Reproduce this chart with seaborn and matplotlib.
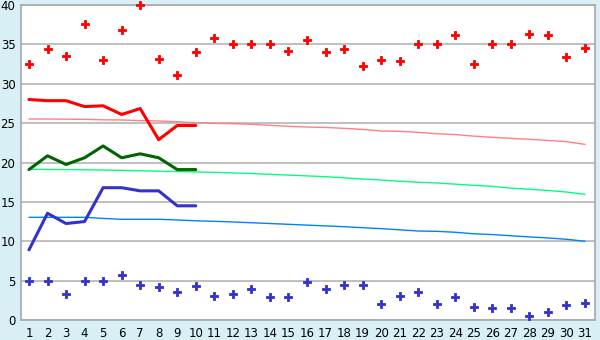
import matplotlib
matplotlib.use("Agg")
import matplotlib.pyplot as plt
import seaborn as sns
import pandas as pd
import numpy as np

days = list(range(1, 32))

max_pts = [32.5, 34.4, 33.5, 37.6, 33.0, 36.8, 40.0, 33.1, 31.1, 34.0,
           35.8, 35.0, 35.0, 35.0, 34.1, 35.6, 34.0, 34.4, 32.2, 33.0,
           32.9, 35.0, 35.0, 36.2, 32.5, 35.0, 35.0, 36.3, 36.2, 33.4, 34.6]
min_pts = [5.0, 5.0, 3.3, 5.0, 5.0, 5.7, 4.5, 4.2, 3.5, 4.3,
           3.0, 3.3, 3.9, 2.9, 2.9, 4.8, 3.9, 4.4, 4.4, 2.0,
           3.0, 3.5, 2.0, 2.9, 1.7, 1.5, 1.5, 0.5, 1.0, 1.9, 2.2]

line_days = list(range(1, 11))
max_line = [28.0, 27.85, 27.85, 27.1, 27.2, 26.1, 26.85, 22.9, 24.7, 24.7]
mean_line = [19.1, 20.85, 19.75, 20.6, 22.1, 20.6, 21.1, 20.6, 19.1, 19.1]
min_line = [8.9, 13.55, 12.25, 12.5, 16.8, 16.8, 16.4, 16.4, 14.5, 14.5]

norm_max = [25.52, 25.52, 25.50, 25.48, 25.42, 25.40, 25.32, 25.27, 25.18, 25.05,
            24.97, 24.93, 24.85, 24.72, 24.60, 24.50, 24.45, 24.34, 24.20, 24.00,
            23.96, 23.83, 23.65, 23.55, 23.35, 23.20, 23.07, 22.95, 22.80, 22.65, 22.30]
norm_mean = [19.13, 19.12, 19.10, 19.08, 19.05, 19.00, 18.95, 18.90, 18.85, 18.80,
             18.75, 18.68, 18.60, 18.50, 18.40, 18.30, 18.20, 18.05, 17.90, 17.78,
             17.62, 17.49, 17.40, 17.25, 17.10, 16.97, 16.75, 16.60, 16.45, 16.25, 15.96]
norm_min = [13.04, 13.04, 13.04, 13.04, 12.90, 12.79, 12.79, 12.79, 12.70, 12.60,
            12.53, 12.45, 12.35, 12.25, 12.15, 12.05, 11.95, 11.85, 11.72, 11.60,
            11.45, 11.30, 11.26, 11.14, 10.95, 10.85, 10.70, 10.55, 10.42, 10.25, 10.00]

sns.set_theme(style="white")
plt.rcParams['font.family'] = ['DejaVu Sans']

bg = "#D9EFF6"
fig = plt.figure(figsize=(6.0, 3.4), dpi=100, facecolor=bg)
ax = fig.add_axes([21/600, 1-320/340, (595-21)/600, (320-5)/340])
ax.set_facecolor("white")

df_norm = pd.DataFrame({"day": days, "nmax": norm_max, "nmean": norm_mean, "nmin": norm_min,
                        "pmax": max_pts, "pmin": min_pts})
df_line = pd.DataFrame({"day": line_days, "max": max_line, "mean": mean_line, "min": min_line})

sns.lineplot(data=df_norm, x="day", y="nmax", ax=ax, color="#FF8080", linewidth=1.0)
sns.lineplot(data=df_norm, x="day", y="nmean", ax=ax, color="#00FF80", linewidth=1.0)
sns.lineplot(data=df_norm, x="day", y="nmin", ax=ax, color="#0080FF", linewidth=1.0)

sns.lineplot(data=df_line, x="day", y="max", ax=ax, color="#FF0000", linewidth=2.2)
sns.lineplot(data=df_line, x="day", y="mean", ax=ax, color="#006400", linewidth=2.2)
sns.lineplot(data=df_line, x="day", y="min", ax=ax, color="#3333CC", linewidth=2.2)

sns.scatterplot(data=df_norm, x="day", y="pmax", ax=ax, color="#FF0000", marker="P",
                s=32, edgecolor="#FF0000", linewidth=0.6, zorder=5, clip_on=False)
sns.scatterplot(data=df_norm, x="day", y="pmin", ax=ax, color="#3333CC", marker="P",
                s=32, edgecolor="#3333CC", linewidth=0.6, zorder=5, clip_on=False)

ax.set_xlim(0.57, 31.54)
ax.set_ylim(0, 40)
ax.set_xticks(days)
ax.set_xticklabels([str(d) for d in days])
ax.set_yticks(range(0, 41, 5))
ax.yaxis.grid(True, color="#B4B4B4", linewidth=1.2)
ax.set_axisbelow(True)
ax.set_xlabel("")
ax.set_ylabel("")
for s in ax.spines.values():
    s.set_color("#A8A8A8")
    s.set_linewidth(1.2)
ax.tick_params(axis="both", which="both", direction="out", colors="black",
               labelsize=8.5, length=4, width=1, pad=1)
ax.tick_params(axis="y", length=3)

fig.savefig("out.png", dpi=100, facecolor=bg)
